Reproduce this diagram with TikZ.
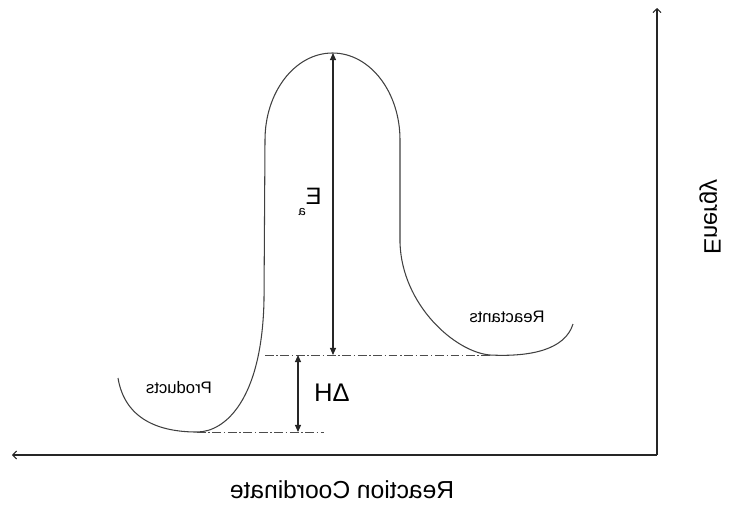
\documentclass[tikz,border=0pt]{standalone}
\usepackage{fontspec}
\setmainfont{Liberation Sans}
\usetikzlibrary{arrows.meta}

\begin{document}
\begin{tikzpicture}[
  x=0.02cm,y=-0.02cm,
  curve/.style={draw=black!75,line width=0.6pt},
  axis/.style={-{Straight Barb[length=2.2pt,width=4.5pt]},draw=black!85,line width=0.6pt},
  gap/.style={{Triangle[length=4pt,width=3.4pt]}-{Triangle[length=4pt,width=3.4pt]},draw=black!85,line width=0.6pt},
  level/.style={draw=black!70,line width=0.5pt,dash pattern=on 5pt off 1.5pt on 0.8pt off 1.5pt},
  mirror/.style={xscale=-1,transform shape,inner sep=0pt}
]
  \useasboundingbox (0,0) rectangle (736,504);

  % axes (picture is mirrored: energy axis on the right)
  \coordinate (origin) at (657,455);
  \coordinate (etop) at (657,8);
  \coordinate (xend) at (12,455);
  \draw[axis] (origin) -- (etop);
  \draw[axis] (origin) -- (xend);

  % energy profile
  \draw[curve] (118,378) .. controls (125,420) and (160,432) .. (197,432)
    .. controls (225,432) and (262,400) .. (264,300)
    -- (265,140)
    .. controls (265,92) and (295,53) .. (332.5,53)
    .. controls (370,53) and (400,92) .. (400,140)
    -- (400,243)
    .. controls (402,305) and (455,352) .. (490,355)
    .. controls (530,357) and (565,350) .. (573,324);

  % levels
  \coordinate (peak) at (333,53);
  \coordinate (react) at (333,355);
  \coordinate (rstart) at (265,355);
  \coordinate (rend) at (490,355);
  \coordinate (pstart) at (197,432);
  \coordinate (pend) at (324,432);
  \coordinate (dhtop) at (298,355);
  \coordinate (dhbot) at (298,432);
  \draw[level] (rstart) -- (rend);
  \draw[level] (pstart) -- (pend);
  \draw[gap] (peak) -- (react);
  \draw[gap] (dhtop) -- (dhbot);

  % labels
  \node[mirror,font=\fontsize{13.5}{16}\selectfont] (ea) at (310,202)
    {E\raisebox{-0.45em}{\fontsize{7.5}{8}\selectfont a}};
  \node[mirror,font=\fontsize{14.5}{16}\selectfont] (dh) at (332,393) {ΔH};
  \node[mirror,font=\fontsize{9.5}{11}\selectfont] (prod) at (179,388) {Products};
  \node[mirror,font=\fontsize{9.5}{11}\selectfont] (reac) at (507,317) {Reactants};
  \node[mirror,font=\fontsize{14}{16}\selectfont] (xlabel) at (342,490) {Reaction Coordinate};
  \node[mirror,rotate=90,font=\fontsize{13.5}{15}\selectfont] (ylabel) at (710,217) {Energy};
\end{tikzpicture}
\end{document}
